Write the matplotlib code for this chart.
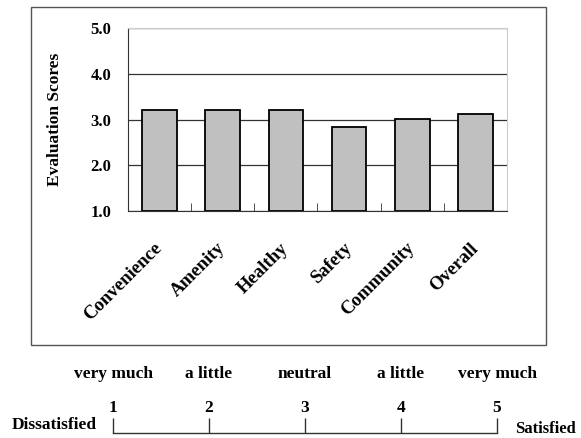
import matplotlib
matplotlib.use('Agg')
import matplotlib.pyplot as plt
from matplotlib.patches import Rectangle

categories = ['Convenience', 'Amenity', 'Healthy', 'Safety', 'Community', 'Overall']
scores = [3.2, 3.2, 3.2, 2.83, 3.01, 3.11]
y_ticks = [1.0, 2.0, 3.0, 4.0, 5.0]

scale_points = [1, 2, 3, 4, 5]
scale_words = ['very much', 'a little', 'neutral', 'a little', 'very much']

plt.rcParams['font.family'] = ['Liberation Serif', 'DejaVu Serif']
plt.rcParams['font.weight'] = 'bold'

W, H = 581, 438
fig = plt.figure(figsize=(W / 100, H / 100), dpi=100)

# outer frame around the chart
fig.patches.append(Rectangle((31 / W, 1 - 345 / H), (546 - 31) / W, (345 - 7) / H,
                             transform=fig.transFigure, fill=False,
                             edgecolor='#555555', lw=1.0))

ax = fig.add_axes([128 / W, 1 - 211 / H, (507 - 128) / W, (211 - 28) / H])
x = list(range(len(categories)))
ax.bar(x, [s - 1 for s in scores], bottom=1, width=0.55,
       color='#c0c0c0', edgecolor='black', linewidth=1.3, zorder=3)
ax.set_xlim(-0.5, len(categories) - 0.5)
ax.set_ylim(1, 5)
ax.set_yticks(y_ticks)
ax.set_yticklabels([f'{v:.1f}' for v in y_ticks], fontsize=12, fontweight='bold')
ax.tick_params(axis='y', length=0, pad=12)
ax.yaxis.grid(True, color='#333333', lw=0.9)
ax.set_axisbelow(True)

ax.set_xticks(x)
ax.set_xticklabels(categories, rotation=45, ha='right', va='center',
                   rotation_mode='anchor', fontsize=13.5, fontweight='bold')
ax.tick_params(axis='x', length=0, pad=25)
ax.set_xticks([i + 0.5 for i in x[:-1]], minor=True)
ax.tick_params(axis='x', which='minor', direction='in', length=6, color='#333333')

for side in ('top', 'right'):
    ax.spines[side].set_color('#cccccc')
for side in ('left', 'bottom'):
    ax.spines[side].set_color('#333333')
ax.set_ylabel('Evaluation Scores', fontsize=12.5, fontweight='bold', labelpad=20)

# satisfaction scale below the chart
ax2 = fig.add_axes([113 / W, 1 - 433 / H, (497 - 113) / W, (433 - 360) / H])
ax2.set_xlim(1, 5)
ax2.set_ylim(0, 1)
ax2.axis('off')
ax2.plot([scale_points[0], scale_points[-1]], [0, 0], color='#333333', lw=1.0,
         clip_on=False)
ax2.vlines(scale_points, 0, 0.2, color='#333333', lw=1.0, clip_on=False)
for p, w in zip(scale_points, scale_words):
    ax2.text(p, 0.34, str(p), ha='center', va='center', fontsize=12.5,
             fontweight='bold')
    ax2.text(p, 0.81, w, ha='center', va='center', fontsize=12.5,
             fontweight='bold')
ax2.text(-0.263, 0.11, 'Dissatisfied', transform=ax2.transAxes, ha='left',
         va='center', fontsize=12.5, fontweight='bold')
ax2.text(1.047, 0.06, 'Satisfied', transform=ax2.transAxes, ha='left',
         va='center', fontsize=12, fontweight='bold')

fig.savefig('out.png', dpi=100)
